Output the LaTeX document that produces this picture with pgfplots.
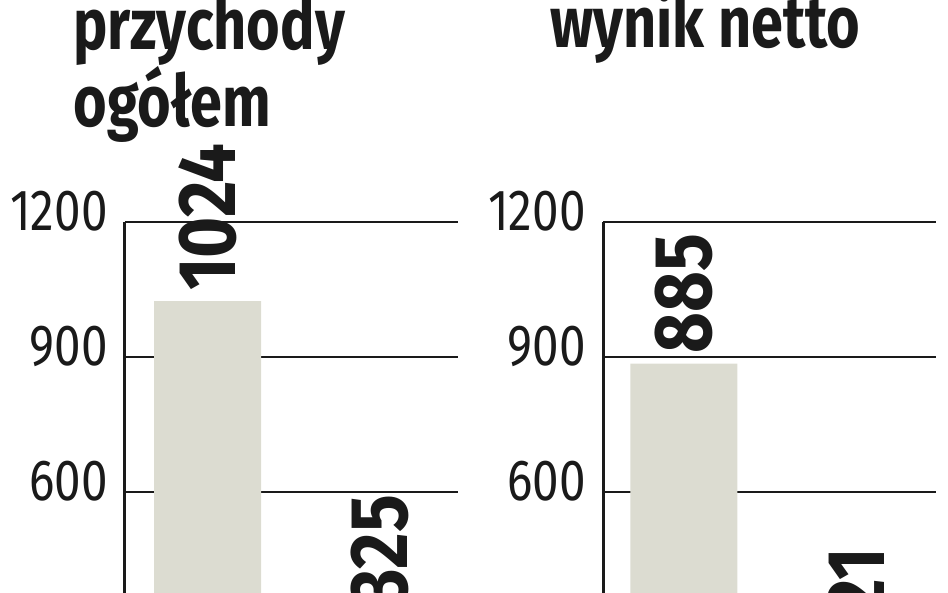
\documentclass[border=0pt]{standalone}
\usepackage{fontspec}
\usepackage{pgfplots}
\pgfplotsset{compat=1.18}
\setmainfont{Fira Sans}
\newfontfamily\titlefont{Fira Sans}[FakeStretch=0.80]
\newfontfamily\valuefont{Fira Sans}[FakeStretch=0.86]
\newfontfamily\tickfont{Fira Sans}[FakeStretch=0.82]
\definecolor{barcol}{RGB}{220,220,209}
\definecolor{ink}{RGB}{26,26,26}

% one panel: two bars on a grid that runs off the bottom of the picture
% (all sizes below: reference pixels times 0.5pt)
\pgfplotsset{panel/.style={
    scale only axis,
    width=166.5pt, height=270pt,
    anchor=south west,
    ymin=0, ymax=1200,
    ytick={0,300,...,1200},
    xmin=-0.48, xmax=1.456,
    axis x line=none,
    axis y line=left,
    y axis line style={-, line width=1.5pt, draw=ink},
    ymajorgrids,
    grid style={line width=1.4pt, draw=ink},
    major tick length=0pt,
    /pgf/number format/1000 sep={},
    /pgf/number format/assume math mode=true,
    yticklabel style={font=\tickfont\fontsize{29}{30}\selectfont, text=ink,
        anchor=east, inner sep=0pt, xshift=-8.5pt, yshift=5.5pt},
    clip=false,
    ybar, bar width=53.5pt,
    nodes near coords,
    nodes near coords style={font=\valuefont\bfseries\fontsize{41}{42}\selectfont,
        text=ink, rotate=90, anchor=west, inner xsep=5pt, inner ysep=0pt},
}}

\begin{document}
\begin{tikzpicture}
\begin{scope}
\clip (0pt,0pt) rectangle (474pt,-296.5pt);

\begin{axis}[panel, at={(62.5pt,-381pt)}]
\addplot[fill=barcol, draw=none] coordinates {(0,1024) (1,325)};
\end{axis}

\begin{axis}[panel, at={(301.5pt,-381pt)}, xmin=-0.47, xmax=1.466]
\addplot[fill=barcol, draw=none] coordinates {(0,885) (1,221)};
\end{axis}

\node[font=\titlefont\bfseries\fontsize{36}{38}\selectfont, text=ink,
      anchor=base west, inner sep=0pt] at (36.5pt,-25pt) {przychody};
\node[font=\titlefont\bfseries\fontsize{36}{38}\selectfont, text=ink,
      anchor=base west, inner sep=0pt] at (36.5pt,-63.5pt) {ogółem};
\node[font=\titlefont\bfseries\fontsize{36}{38}\selectfont, text=ink,
      anchor=base west, inner sep=0pt] at (275pt,-24pt) {wynik netto};
\end{scope}
\pgfresetboundingbox
\path[use as bounding box] (0pt,0pt) rectangle (474pt,-296.5pt);
\end{tikzpicture}
\end{document}
